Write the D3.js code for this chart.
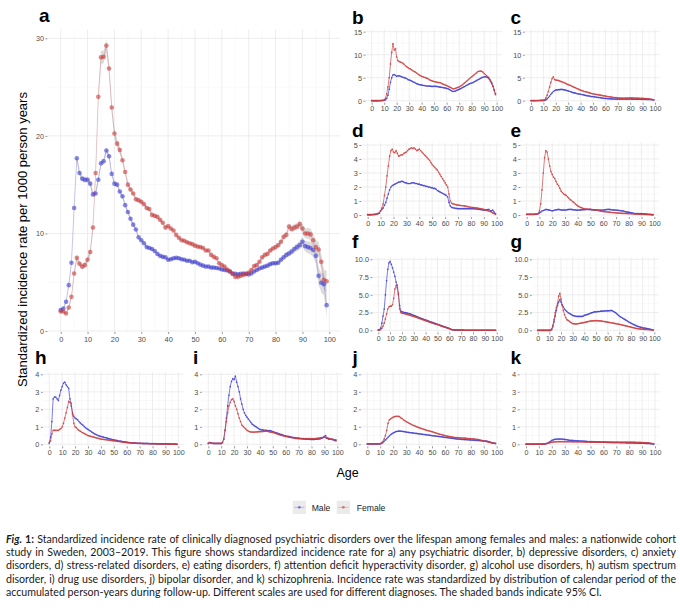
<!DOCTYPE html>
<html><head><meta charset="utf-8">
<script src="https://cdn.jsdelivr.net/npm/d3@7"></script>
<style>body{margin:0;background:#fff}svg{display:block}</style>
</head><body>
<svg id="c" width="680" height="608"></svg>
<script>
// ---------------- DATA (age 0..99) ----------------
const ages = d3.range(0, 100);
const sexes = ["Male", "Female"];
const panelIds = ["a","b","c","d","e","f","g","h","i","j","k"];

const maleA = [2.15,2.3,3.0,4.7,7.0,12.6,17.7,16.2,15.6,15.5,
15.5,15.1,14.0,14.1,15.5,17.2,17.4,18.5,17.9,16.1,
15.1,15.0,14.3,13.8,12.9,12.2,11.5,10.9,10.4,9.6,
9.3,9.0,8.6,8.5,8.4,8.2,7.9,7.7,7.6,7.55,
7.3,7.35,7.45,7.5,7.45,7.35,7.3,7.2,7.2,7.05,
7.1,6.95,6.8,6.7,6.6,6.6,6.5,6.5,6.45,6.4,
6.3,6.25,6.2,6.1,5.9,5.85,5.8,5.85,5.9,5.85,
5.8,5.9,6.1,6.25,6.4,6.5,6.6,6.7,6.85,6.95,
6.95,7.0,7.3,7.55,7.8,7.95,8.15,8.4,8.6,8.8,
9.15,8.7,8.6,8.5,8.3,7.7,5.65,4.95,4.8,2.65];
const femaleA = [2.0,2.0,1.8,2.4,3.5,5.9,7.5,6.9,6.6,6.75,
7.3,8.1,10.6,16.2,24.0,28.05,28.1,29.25,26.9,22.9,
20.25,19.2,18.55,17.5,16.3,15.0,14.5,14.1,13.5,13.4,
13.25,13.0,12.6,12.5,11.9,11.8,11.7,11.4,11.1,10.6,
10.75,10.5,10.3,9.85,9.55,9.3,9.25,9.1,9.0,8.9,
8.75,8.65,8.6,8.5,8.25,8.25,7.8,7.6,7.45,6.95,
6.75,6.6,6.3,6.1,5.85,5.55,5.55,5.65,5.75,5.85,
6.0,6.25,6.65,6.75,7.1,7.55,7.8,7.9,8.25,8.45,
8.6,8.8,9.15,9.65,9.85,10.7,10.45,10.6,10.7,10.95,
10.5,10.0,10.0,9.9,9.3,8.6,8.35,7.1,5.25,5.1];
// 95% CI half-widths, panel a
const ciMaleA = [0.15,0.15,0.15,0.2,0.25,0.3,0.35,0.3,0.3,0.3,
0.3,0.3,0.3,0.3,0.3,0.3,0.3,0.3,0.3,0.25,
0.25,0.2,0.2,0.2,0.2,0.2,0.2,0.2,0.2,0.2,
0.15,0.15,0.15,0.15,0.15,0.15,0.15,0.15,0.15,0.15,
0.12,0.12,0.12,0.12,0.12,0.12,0.12,0.12,0.12,0.12,
0.12,0.12,0.12,0.12,0.12,0.12,0.12,0.12,0.12,0.12,
0.12,0.12,0.12,0.12,0.12,0.12,0.12,0.12,0.12,0.12,
0.12,0.12,0.12,0.13,0.13,0.14,0.15,0.16,0.17,0.18,
0.2,0.22,0.24,0.26,0.28,0.3,0.33,0.36,0.4,0.44,
0.5,0.55,0.6,0.65,0.72,0.8,0.9,1.0,1.15,1.3];
const ciFemaleA = [0.15,0.15,0.15,0.2,0.2,0.3,0.35,0.3,0.3,0.3,
0.3,0.35,0.4,0.5,0.6,0.65,0.65,0.65,0.6,0.55,
0.5,0.45,0.4,0.35,0.3,0.3,0.25,0.25,0.25,0.25,
0.2,0.2,0.2,0.2,0.2,0.2,0.2,0.2,0.2,0.2,
0.15,0.15,0.15,0.15,0.15,0.15,0.15,0.15,0.15,0.15,
0.15,0.15,0.15,0.15,0.15,0.15,0.15,0.15,0.15,0.15,
0.15,0.15,0.15,0.15,0.15,0.15,0.15,0.15,0.15,0.15,
0.15,0.15,0.15,0.16,0.16,0.17,0.18,0.19,0.2,0.21,
0.22,0.24,0.26,0.28,0.3,0.32,0.34,0.36,0.38,0.4,
0.45,0.5,0.55,0.6,0.65,0.7,0.8,0.9,1.0,1.1];

const maleB = [0,0,0,0,0,0,0.02,0.02,0.03,0.05,
0.1,0.2,0.5,1.2,2.5,4.0,5.0,5.6,5.7,5.5,
5.3,5.4,5.4,5.3,5.2,5.1,5.0,4.9,4.8,4.6,
4.5,4.4,4.3,4.1,4.0,3.85,3.7,3.6,3.5,3.45,
3.4,3.35,3.3,3.25,3.2,3.2,3.15,3.15,3.1,3.1,
3.15,3.1,3.1,3.05,3.0,2.95,2.9,2.85,2.8,2.75,
2.7,2.6,2.45,2.3,2.15,2.0,2.05,2.1,2.25,2.35,
2.5,2.6,2.75,2.9,3.05,3.2,3.35,3.5,3.65,3.75,
3.85,3.95,4.1,4.25,4.4,4.55,4.7,4.85,5.0,5.1,
5.2,5.2,5.15,5.0,4.7,4.2,3.7,3.2,2.4,1.5];
const femaleB = [0,0,0,0,0,0,0.02,0.03,0.05,0.08,
0.15,0.5,1.5,3.0,5.0,8.0,10.5,12.4,11.0,11.3,
9.5,8.7,8.5,8.4,8.3,8.1,7.9,7.6,7.4,7.2,
7.0,6.9,6.7,6.5,6.35,6.2,6.0,5.8,5.6,5.45,
5.3,5.2,5.1,5.0,4.9,4.8,4.6,4.45,4.35,4.25,
4.15,4.1,4.05,4.0,3.95,3.9,3.75,3.6,3.5,3.4,
3.3,3.15,3.0,2.9,2.75,2.6,2.6,2.7,2.8,2.9,
3.0,3.15,3.35,3.55,3.8,4.0,4.25,4.5,4.75,5.0,
5.2,5.4,5.65,5.9,6.1,6.35,6.4,6.45,6.4,6.2,
5.9,5.7,5.4,5.2,4.9,4.5,4.0,3.1,2.2,1.3];

const maleC = [0.02,0.02,0.02,0.03,0.03,0.03,0.04,0.04,0.05,0.05,
0.06,0.08,0.2,0.4,0.7,1.0,1.4,1.7,2.0,2.2,
2.3,2.35,2.4,2.4,2.45,2.45,2.4,2.35,2.3,2.2,
2.1,2.05,1.95,1.85,1.75,1.7,1.65,1.55,1.5,1.45,
1.4,1.35,1.3,1.2,1.15,1.1,1.05,1.0,0.95,0.9,
0.9,0.85,0.8,0.75,0.72,0.7,0.65,0.6,0.55,0.52,
0.5,0.48,0.45,0.42,0.4,0.4,0.38,0.37,0.36,0.35,
0.35,0.35,0.35,0.35,0.35,0.35,0.35,0.35,0.35,0.35,
0.35,0.35,0.34,0.33,0.33,0.32,0.32,0.31,0.31,0.3,
0.3,0.3,0.3,0.28,0.28,0.27,0.26,0.25,0.22,0.2];
const femaleC = [0.02,0.02,0.02,0.03,0.03,0.04,0.04,0.05,0.05,0.06,
0.08,0.2,0.6,1.2,2.0,3.0,4.0,4.8,5.2,4.6,
4.5,4.45,4.4,4.3,4.2,4.1,4.0,3.9,3.75,3.6,
3.5,3.4,3.3,3.15,3.0,2.9,2.8,2.65,2.55,2.4,
2.3,2.2,2.1,2.0,1.95,1.9,1.8,1.7,1.65,1.55,
1.5,1.45,1.4,1.35,1.3,1.25,1.2,1.15,1.1,1.05,
1.0,0.95,0.9,0.85,0.82,0.8,0.75,0.7,0.68,0.65,
0.6,0.6,0.58,0.57,0.55,0.55,0.56,0.57,0.58,0.6,
0.6,0.6,0.6,0.58,0.57,0.55,0.55,0.54,0.52,0.52,
0.5,0.5,0.48,0.45,0.42,0.4,0.35,0.3,0.25,0.2];

const maleD = [0.02,0.02,0.02,0.03,0.03,0.04,0.05,0.07,0.1,0.15,
0.3,0.4,0.5,0.7,0.9,1.2,1.5,1.8,2.0,2.1,
2.15,2.2,2.25,2.3,2.35,2.35,2.4,2.4,2.35,2.3,
2.3,2.25,2.25,2.25,2.3,2.3,2.3,2.25,2.25,2.2,
2.2,2.15,2.15,2.1,2.1,2.05,2.05,2.0,2.0,1.95,
1.95,1.9,1.9,1.85,1.75,1.7,1.65,1.6,1.55,1.5,
1.45,1.4,1.3,0.9,0.65,0.55,0.52,0.5,0.48,0.47,
0.45,0.45,0.45,0.45,0.45,0.45,0.45,0.45,0.45,0.45,
0.45,0.45,0.45,0.44,0.43,0.42,0.41,0.4,0.38,0.37,
0.35,0.35,0.36,0.38,0.4,0.3,0.3,0.35,0.2,0.1];
const femaleD = [0.02,0.02,0.02,0.03,0.03,0.04,0.05,0.07,0.1,0.15,
0.3,0.5,0.8,1.4,2.0,2.8,3.5,4.2,4.6,4.7,
4.5,4.45,4.6,4.4,4.2,4.25,4.3,4.3,4.4,4.45,
4.5,4.6,4.7,4.75,4.8,4.75,4.8,4.7,4.6,4.65,
4.7,4.6,4.5,4.4,4.3,4.2,4.1,4.0,3.9,3.75,
3.6,3.5,3.4,3.3,3.2,3.05,2.9,2.75,2.6,2.45,
2.3,2.15,2.0,1.5,1.0,0.85,0.8,0.78,0.75,0.72,
0.7,0.7,0.68,0.67,0.66,0.65,0.63,0.61,0.59,0.57,
0.55,0.54,0.53,0.52,0.51,0.5,0.48,0.46,0.44,0.42,
0.4,0.37,0.34,0.31,0.28,0.25,0.2,0.15,0.1,0.05];

const maleE = [0.05,0.05,0.05,0.05,0.05,0.05,0.05,0.06,0.07,0.1,
0.15,0.2,0.3,0.32,0.35,0.4,0.38,0.36,0.35,0.32,
0.3,0.32,0.35,0.37,0.38,0.4,0.38,0.36,0.35,0.36,
0.35,0.37,0.38,0.4,0.4,0.4,0.38,0.37,0.36,0.35,
0.35,0.35,0.36,0.37,0.38,0.38,0.39,0.4,0.4,0.4,
0.4,0.38,0.37,0.36,0.35,0.35,0.35,0.35,0.35,0.35,
0.35,0.36,0.38,0.4,0.4,0.4,0.38,0.37,0.36,0.35,
0.35,0.34,0.33,0.32,0.3,0.3,0.28,0.25,0.22,0.2,
0.2,0.18,0.16,0.14,0.12,0.1,0.1,0.1,0.1,0.1,
0.1,0.09,0.08,0.07,0.06,0.05,0.05,0.04,0.03,0.02];
const femaleE = [0.05,0.05,0.05,0.05,0.05,0.05,0.05,0.06,0.07,0.1,
0.3,0.8,1.8,3.0,4.1,4.6,4.5,4.0,3.5,3.1,
2.9,2.7,2.6,2.4,2.2,2.1,1.9,1.7,1.6,1.5,
1.45,1.4,1.3,1.2,1.1,1.05,0.95,0.9,0.8,0.72,
0.65,0.6,0.55,0.52,0.48,0.45,0.43,0.42,0.41,0.4,
0.4,0.39,0.38,0.37,0.36,0.35,0.33,0.3,0.28,0.26,
0.25,0.24,0.23,0.22,0.21,0.2,0.19,0.18,0.17,0.16,
0.15,0.15,0.14,0.13,0.13,0.12,0.12,0.11,0.11,0.1,
0.1,0.1,0.09,0.09,0.08,0.08,0.07,0.07,0.06,0.06,
0.05,0.05,0.05,0.04,0.04,0.04,0.03,0.03,0.02,0.02];

const maleF = [0.05,0.1,0.3,1.0,2.0,3.0,5.0,7.0,8.6,9.5,
9.7,9.3,8.8,8.2,7.6,6.8,6.0,5.0,3.5,2.7,
2.6,2.55,2.5,2.48,2.45,2.4,2.35,2.3,2.25,2.15,
2.1,2.05,1.98,1.9,1.82,1.75,1.7,1.63,1.56,1.5,
1.45,1.4,1.33,1.27,1.2,1.15,1.1,1.03,0.97,0.9,
0.85,0.8,0.73,0.67,0.6,0.55,0.5,0.43,0.37,0.3,
0.25,0.18,0.1,0.08,0.06,0.05,0.04,0.03,0.03,0.02,
0.02,0.02,0.02,0.01,0.01,0.01,0.01,0.01,0.01,0.01,
0.01,0.01,0.01,0.01,0.01,0.01,0.01,0.01,0.01,0.01,
0.01,0.01,0.01,0.01,0.01,0.01,0.01,0.01,0.01,0.01];
const femaleF = [0.02,0.05,0.1,0.3,0.6,1.0,1.6,2.3,3.0,3.3,
3.4,3.4,3.6,4.5,5.8,6.3,6.4,5.2,3.0,2.5,
2.4,2.38,2.35,2.3,2.25,2.2,2.15,2.1,2.05,2.0,
1.95,1.9,1.85,1.78,1.72,1.65,1.6,1.53,1.47,1.4,
1.35,1.3,1.23,1.17,1.1,1.05,1.0,0.95,0.9,0.85,
0.8,0.75,0.68,0.62,0.56,0.5,0.45,0.4,0.35,0.3,
0.25,0.18,0.1,0.08,0.06,0.05,0.04,0.03,0.03,0.02,
0.02,0.02,0.02,0.01,0.01,0.01,0.01,0.01,0.01,0.01,
0.01,0.01,0.01,0.01,0.01,0.01,0.01,0.01,0.01,0.01,
0.01,0.01,0.01,0.01,0.01,0.01,0.01,0.01,0.01,0.01];

const maleG = [0,0,0,0,0,0,0,0,0,0,
0,0,0.1,0.5,1.2,2.0,2.8,3.5,4.0,4.3,
4.0,3.6,3.3,3.0,2.8,2.65,2.5,2.4,2.3,2.2,
2.1,2.05,2.0,1.97,1.95,1.95,1.95,1.95,1.95,2.0,
2.1,2.15,2.2,2.25,2.3,2.4,2.45,2.5,2.55,2.6,
2.6,2.62,2.65,2.65,2.7,2.7,2.7,2.72,2.75,2.75,
2.75,2.75,2.78,2.8,2.75,2.65,2.55,2.45,2.3,2.15,
2.0,1.9,1.8,1.7,1.6,1.5,1.4,1.3,1.2,1.1,
1.0,0.92,0.84,0.76,0.68,0.6,0.55,0.5,0.45,0.4,
0.35,0.32,0.3,0.27,0.24,0.2,0.16,0.12,0.08,0.05];
const femaleG = [0,0,0,0,0,0,0,0,0,0,
0,0,0.2,0.7,1.5,2.5,3.2,3.8,4.8,5.2,
4.4,3.5,2.8,2.2,1.8,1.5,1.4,1.3,1.15,1.05,
0.95,0.93,0.9,0.9,0.92,0.95,0.98,1.0,1.05,1.08,
1.1,1.14,1.18,1.22,1.26,1.3,1.32,1.33,1.34,1.35,
1.35,1.35,1.34,1.33,1.32,1.3,1.27,1.24,1.21,1.18,
1.15,1.12,1.09,1.06,1.03,1.0,0.97,0.94,0.91,0.88,
0.85,0.81,0.77,0.73,0.69,0.65,0.61,0.57,0.53,0.49,
0.45,0.41,0.37,0.33,0.29,0.25,0.23,0.21,0.19,0.17,
0.15,0.14,0.13,0.12,0.11,0.1,0.09,0.08,0.06,0.05];

const maleH = [0.1,0.4,1.3,2.6,2.7,2.7,2.6,2.5,2.8,3.1,
3.3,3.5,3.55,3.4,3.3,3.2,2.6,2.2,1.8,1.6,
1.5,1.45,1.4,1.3,1.22,1.15,1.1,1.02,0.95,0.9,
0.85,0.8,0.75,0.7,0.65,0.6,0.57,0.53,0.5,0.47,
0.45,0.43,0.41,0.39,0.37,0.35,0.33,0.31,0.29,0.27,
0.25,0.24,0.22,0.21,0.19,0.18,0.17,0.15,0.14,0.13,
0.12,0.11,0.1,0.09,0.09,0.08,0.08,0.07,0.07,0.06,
0.06,0.06,0.05,0.05,0.05,0.05,0.05,0.04,0.04,0.04,
0.04,0.04,0.04,0.03,0.03,0.03,0.03,0.03,0.02,0.02,
0.02,0.02,0.02,0.02,0.01,0.01,0.01,0.01,0.01,0.0];
const femaleH = [0.05,0.2,0.6,0.8,0.8,0.8,0.8,0.8,0.85,0.9,
1.0,1.2,1.5,1.8,2.1,2.45,2.4,2.35,1.7,1.2,
1.0,0.95,0.85,0.8,0.75,0.7,0.66,0.62,0.58,0.54,
0.5,0.48,0.46,0.44,0.42,0.4,0.38,0.36,0.34,0.32,
0.3,0.29,0.28,0.27,0.26,0.25,0.24,0.23,0.22,0.21,
0.2,0.19,0.18,0.17,0.16,0.15,0.14,0.13,0.12,0.11,
0.1,0.09,0.09,0.08,0.08,0.07,0.07,0.06,0.06,0.05,
0.05,0.05,0.05,0.04,0.04,0.04,0.04,0.04,0.03,0.03,
0.03,0.03,0.03,0.03,0.02,0.02,0.02,0.02,0.02,0.02,
0.02,0.02,0.01,0.01,0.01,0.01,0.01,0.01,0.01,0.01];

const maleI = [0.05,0.1,0.08,0.06,0.05,0.05,0.05,0.05,0.05,0.05,
0.05,0.1,0.3,0.8,1.5,2.2,2.8,3.3,3.6,3.75,
3.7,3.9,3.55,3.3,3.0,2.6,2.3,2.0,1.8,1.65,
1.55,1.45,1.35,1.25,1.15,1.1,1.05,1.0,0.95,0.9,
0.85,0.83,0.82,0.81,0.8,0.8,0.79,0.78,0.78,0.75,
0.72,0.7,0.67,0.65,0.62,0.6,0.57,0.55,0.52,0.5,
0.48,0.46,0.45,0.43,0.42,0.4,0.39,0.38,0.37,0.36,
0.35,0.34,0.33,0.32,0.31,0.3,0.3,0.29,0.29,0.28,
0.28,0.28,0.28,0.29,0.29,0.3,0.31,0.32,0.35,0.4,
0.45,0.5,0.35,0.3,0.3,0.3,0.28,0.25,0.22,0.2];
const femaleI = [0.05,0.1,0.08,0.06,0.05,0.05,0.05,0.05,0.05,0.05,
0.05,0.1,0.3,0.8,1.3,1.8,2.2,2.4,2.55,2.6,
2.45,2.2,2.0,1.75,1.5,1.3,1.1,1.02,0.95,0.88,
0.8,0.76,0.72,0.71,0.7,0.7,0.7,0.71,0.71,0.72,
0.72,0.73,0.73,0.74,0.75,0.75,0.74,0.72,0.7,0.69,
0.68,0.66,0.63,0.61,0.58,0.55,0.53,0.51,0.49,0.47,
0.45,0.44,0.42,0.41,0.39,0.38,0.37,0.35,0.34,0.33,
0.32,0.32,0.32,0.32,0.32,0.32,0.32,0.32,0.32,0.32,
0.32,0.32,0.33,0.33,0.34,0.35,0.36,0.37,0.38,0.39,
0.4,0.38,0.37,0.35,0.33,0.3,0.29,0.28,0.26,0.25];

const maleJ = [0.02,0.02,0.02,0.02,0.02,0.02,0.02,0.02,0.02,0.02,
0.03,0.05,0.1,0.17,0.25,0.32,0.4,0.48,0.55,0.6,
0.65,0.68,0.72,0.74,0.75,0.75,0.75,0.74,0.73,0.72,
0.7,0.69,0.68,0.67,0.66,0.65,0.64,0.63,0.62,0.61,
0.6,0.59,0.58,0.57,0.56,0.55,0.54,0.53,0.52,0.51,
0.5,0.49,0.48,0.47,0.46,0.45,0.44,0.43,0.42,0.41,
0.4,0.39,0.38,0.37,0.36,0.35,0.34,0.33,0.32,0.31,
0.3,0.3,0.29,0.28,0.28,0.27,0.27,0.26,0.26,0.25,
0.25,0.24,0.24,0.23,0.23,0.22,0.22,0.21,0.21,0.2,
0.2,0.19,0.18,0.17,0.15,0.12,0.1,0.08,0.06,0.05];
const femaleJ = [0.03,0.03,0.03,0.03,0.03,0.03,0.03,0.03,0.03,0.03,
0.04,0.08,0.15,0.3,0.5,0.8,1.2,1.4,1.45,1.5,
1.55,1.58,1.6,1.6,1.6,1.58,1.5,1.47,1.4,1.35,
1.3,1.26,1.22,1.18,1.14,1.1,1.07,1.04,1.01,0.98,
0.95,0.92,0.9,0.87,0.85,0.82,0.8,0.78,0.76,0.74,
0.72,0.7,0.67,0.65,0.62,0.6,0.58,0.56,0.54,0.52,
0.5,0.48,0.47,0.45,0.44,0.42,0.41,0.4,0.39,0.38,
0.38,0.37,0.37,0.36,0.36,0.35,0.35,0.34,0.33,0.33,
0.32,0.31,0.31,0.3,0.29,0.28,0.27,0.25,0.23,0.21,
0.2,0.18,0.16,0.14,0.12,0.1,0.09,0.07,0.06,0.05];

const maleK = [0.01,0.01,0.01,0.01,0.01,0.01,0.01,0.01,0.01,0.01,
0.01,0.01,0.01,0.02,0.02,0.03,0.05,0.07,0.12,0.17,
0.22,0.25,0.28,0.29,0.3,0.3,0.3,0.3,0.3,0.29,
0.28,0.27,0.26,0.24,0.23,0.22,0.22,0.21,0.21,0.2,
0.2,0.2,0.19,0.19,0.18,0.18,0.17,0.17,0.16,0.16,
0.15,0.15,0.15,0.14,0.14,0.14,0.13,0.13,0.13,0.12,
0.12,0.12,0.12,0.11,0.11,0.11,0.11,0.1,0.1,0.1,
0.1,0.1,0.1,0.09,0.09,0.09,0.09,0.09,0.08,0.08,
0.08,0.08,0.08,0.08,0.07,0.07,0.07,0.07,0.06,0.06,
0.06,0.06,0.06,0.05,0.05,0.05,0.04,0.03,0.03,0.02];
const femaleK = [0.01,0.01,0.01,0.01,0.01,0.01,0.01,0.01,0.01,0.01,
0.01,0.01,0.01,0.01,0.02,0.03,0.04,0.06,0.08,0.1,
0.12,0.13,0.14,0.14,0.15,0.15,0.15,0.15,0.15,0.15,
0.15,0.15,0.15,0.15,0.15,0.15,0.14,0.14,0.14,0.14,
0.14,0.14,0.14,0.14,0.14,0.13,0.13,0.13,0.13,0.13,
0.13,0.13,0.13,0.13,0.13,0.12,0.12,0.12,0.12,0.12,
0.12,0.12,0.12,0.12,0.12,0.12,0.12,0.12,0.12,0.12,
0.12,0.12,0.12,0.12,0.12,0.12,0.12,0.12,0.12,0.12,
0.12,0.12,0.12,0.12,0.12,0.11,0.11,0.11,0.11,0.11,
0.1,0.1,0.1,0.09,0.09,0.08,0.07,0.06,0.04,0.03];

const xTicks = [0,10,20,30,40,50,60,70,80,90,100];
const yTicksA = [0,10,20,30];
const yTicksBC = [0,5,10,15];
const yTicksDE = [0,1,2,3,4,5];
const yTicksFG = [0,2.5,5,7.5,10];
const yTicksHK = [0,1,2,3,4];

const captionLines = [
 "Standardized incidence rate of clinically diagnosed psychiatric disorders over the lifespan among females and males: a nationwide cohort",
 "study in Sweden, 2003–2019. This figure shows standardized incidence rate for a) any psychiatric disorder, b) depressive disorders, c) anxiety",
 "disorders, d) stress-related disorders, e) eating disorders, f) attention deficit hyperactivity disorder, g) alcohol use disorders, h) autism spectrum",
 "disorder, i) drug use disorders, j) bipolar disorder, and k) schizophrenia. Incidence rate was standardized by distribution of calendar period of the",
 "accumulated person-years during follow-up. Different scales are used for different diagnoses. The shaded bands indicate 95% CI."
];

// ---------------- LAYOUT ----------------
const colors = {Male: "#3c3cd2", Female: "#cc3b3b"};
const series = {
 a:[maleA,femaleA], b:[maleB,femaleB], c:[maleC,femaleC], d:[maleD,femaleD],
 e:[maleE,femaleE], f:[maleF,femaleF], g:[maleG,femaleG], h:[maleH,femaleH],
 i:[maleI,femaleI], j:[maleJ,femaleJ], k:[maleK,femaleK]
};
const layout = {
 a:{x0:60.7,x100:329.3,y0:331,yT:38.3,T:30,bot:-0.1,ticks:yTicksA,fmt:d3.format("d"),lab:[39,22.3],big:true},
 b:{x0:371.7,x100:496.7,y0:100.7,yT:31.7,T:15,ticks:yTicksBC,fmt:d3.format("d"),lab:[352,24]},
 c:{x0:531,x100:655,y0:100.7,yT:31.7,T:15,ticks:yTicksBC,fmt:d3.format("d"),lab:[510.5,24]},
 d:{x0:367.7,x100:496.7,y0:215,yT:145,T:5,ticks:yTicksDE,fmt:d3.format("d"),lab:[352,136.7]},
 e:{x0:526.7,x100:654.3,y0:215,yT:145,T:5,ticks:yTicksDE,fmt:d3.format("d"),lab:[510.5,136.7]},
 f:{x0:378.3,x100:496.7,y0:330.3,yT:259.3,T:10,ticks:yTicksFG,fmt:d3.format(".1f"),lab:[352,248.3]},
 g:{x0:537.7,x100:654.3,y0:330.3,yT:259.3,T:10,ticks:yTicksFG,fmt:d3.format(".1f"),lab:[510.5,248.3]},
 h:{x0:49.3,x100:178.3,y0:444.3,yT:374.3,T:4,ticks:yTicksHK,fmt:d3.format("d"),lab:[35,364]},
 i:{x0:208.3,x100:337.3,y0:444.3,yT:374.3,T:4,ticks:yTicksHK,fmt:d3.format("d"),lab:[193,364]},
 j:{x0:367.3,x100:496.7,y0:444.3,yT:374.3,T:4,ticks:yTicksHK,fmt:d3.format("d"),lab:[352.5,364]},
 k:{x0:526,x100:655,y0:444.3,yT:374.3,T:4,ticks:yTicksHK,fmt:d3.format("d"),lab:[510.5,364]}
};

const svg = d3.select("#c");
svg.append("rect").attr("width",680).attr("height",608).attr("fill","#fff");

panelIds.forEach(id => {
  const L = layout[id];
  const [m, f] = series[id];
  const x = d3.scaleLinear().domain([0,100]).range([L.x0, L.x100]);
  const y = d3.scaleLinear().domain([0,L.T]).range([L.y0, L.yT]);
  const xl = x(-4.95), xr = x(103.95);
  const yb = y(L.bot !== undefined ? L.bot : -0.03*L.T), yt = y(1.03*L.T);
  const g = svg.append("g");
  // grid
  const minorX = d3.range(5,100,10);
  const minorY = L.ticks.slice(0,-1).map((t,i)=> (t+L.ticks[i+1])/2);
  g.selectAll(null).data(minorX).join("line")
    .attr("x1",d=>x(d)).attr("x2",d=>x(d)).attr("y1",yb).attr("y2",yt)
    .attr("stroke","#f2f2f2").attr("stroke-width",0.5);
  g.selectAll(null).data(minorY).join("line")
    .attr("x1",xl).attr("x2",xr).attr("y1",d=>y(d)).attr("y2",d=>y(d))
    .attr("stroke","#f2f2f2").attr("stroke-width",0.5);
  g.selectAll(null).data(xTicks).join("line")
    .attr("x1",d=>x(d)).attr("x2",d=>x(d)).attr("y1",yb).attr("y2",yt)
    .attr("stroke","#e9e9e9").attr("stroke-width",0.8);
  g.selectAll(null).data(L.ticks).join("line")
    .attr("x1",xl).attr("x2",xr).attr("y1",d=>y(d)).attr("y2",d=>y(d))
    .attr("stroke","#e9e9e9").attr("stroke-width",0.8);
  // axes
  const xAxis = d3.axisBottom(x).tickValues(xTicks).tickSize(2).tickPadding(L.big ? 2.5 : 1.5).tickFormat(d3.format("d"));
  const ax = g.append("g").attr("transform",`translate(0,${yb})`).call(xAxis);
  ax.select(".domain").remove();
  ax.selectAll(".tick line").attr("stroke","#333").attr("stroke-width",0.5);
  ax.selectAll("text").attr("fill","#4d4d4d")
    .attr("font-family", L.big ? "Liberation Sans, Arial, sans-serif" : "Liberation Sans Narrow, Arial Narrow, sans-serif")
    .attr("font-size", L.big ? 7.4 : 7.1);
  const yAxis = d3.axisLeft(y).tickValues(L.ticks).tickSize(2).tickPadding(1.5).tickFormat(L.fmt);
  const ay = g.append("g").attr("transform",`translate(${xl},0)`).call(yAxis);
  ay.select(".domain").remove();
  ay.selectAll(".tick line").attr("stroke","#333").attr("stroke-width",0.5);
  ay.selectAll("text").attr("fill","#4d4d4d").attr("font-family","Liberation Sans, Arial, sans-serif")
    .attr("font-size", L.big ? 7.2 : 7.3);
  // CI ribbons (panel a)
  if (id === "a") {
    [[maleA,ciMaleA],[femaleA,ciFemaleA]].forEach(([v,ci]) => {
      const area = d3.area().x(d=>x(d)).y0(d=>y(v[d]-ci[d])).y1(d=>y(v[d]+ci[d]));
      g.append("path").attr("d",area(ages)).attr("fill","#9a9a9a").attr("opacity",0.35);
    });
  }
  // series
  [[m,"Male"],[f,"Female"]].forEach(([v,s]) => {
    const line = d3.line().x(d=>x(d)).y(d=>y(v[d]));
    g.append("path").attr("d",line(ages)).attr("fill","none")
      .attr("stroke",colors[s]).attr("stroke-width", L.big ? 0.7 : 0.9)
      .attr("stroke-opacity", L.big ? 0.35 : 0.75);
    g.selectAll(null).data(ages).join("circle")
      .attr("cx",d=>x(d)).attr("cy",d=>y(v[d]))
      .attr("r", L.big ? 2.3 : 0.85)
      .attr("fill",colors[s]).attr("fill-opacity", L.big ? 0.6 : 0.8);
  });
  // panel label
  svg.append("text").attr("x",L.lab[0]).attr("y",L.lab[1]).text(id)
    .attr("font-family","Liberation Sans, Arial, sans-serif").attr("font-weight","bold")
    .attr("font-size",19).attr("fill","#000");
});

// axis titles
svg.append("text").attr("transform","translate(26.5,239.5) rotate(-90)")
  .attr("text-anchor","middle").attr("font-family","Liberation Sans, Arial, sans-serif")
  .attr("font-size",13).attr("fill","#000").text("Standardized incidence rate per 1000 person years");
svg.append("text").attr("x",347.5).attr("y",477).attr("text-anchor","middle")
  .attr("font-family","Liberation Sans, Arial, sans-serif").attr("font-size",12.5).attr("fill","#000").text("Age");

// legend
const legendPos = {Male:[292.7,311.7], Female:[336.7,356.7]};
sexes.forEach(s => {
  const [kx, tx] = legendPos[s];
  const lg = svg.append("g");
  lg.append("rect").attr("x",kx).attr("y",500.7).attr("width",13.3).attr("height",13.3).attr("fill","#ebebeb");
  lg.append("line").attr("x1",kx+1.5).attr("x2",kx+11.8).attr("y1",507.35).attr("y2",507.35)
    .attr("stroke",colors[s]).attr("stroke-opacity",0.35).attr("stroke-width",0.8);
  lg.append("circle").attr("cx",kx+6.65).attr("cy",507.35).attr("r",1.4).attr("fill",colors[s]).attr("fill-opacity",0.6);
  lg.append("text").attr("x",tx).attr("y",510.5).text(s)
    .attr("font-family","Liberation Sans, Arial, sans-serif").attr("font-size",8.6).attr("fill","#1a1a1a");
});

// caption
const cap = svg.append("g").attr("font-family","Lato, 'Open Sans', sans-serif").attr("fill","#1a1a1a");
const capTexts = captionLines.map((t,i) => {
  const el = cap.append("text").attr("x",6).attr("y",542.5 + 13.35*i).attr("font-size",10);
  if (i === 0) {
    el.append("tspan").attr("font-weight","bold").attr("font-style","italic").text("Fig.");
    el.append("tspan").attr("font-weight","bold").text(" 1:");
    el.append("tspan").text(" " + t);
  } else el.text(t);
  return el;
});
const widths = capTexts.slice(0,4).map(e=>e.node().getComputedTextLength());
const fs = 10 * 662 / d3.max(widths);
capTexts.forEach(e=>e.attr("font-size",fs));
capTexts.slice(0,4).forEach((e,i)=>{
  const w = e.node().getComputedTextLength();
  const n = (e.text().match(/ /g)||[]).length;
  e.attr("word-spacing", ((670 - w)/n).toFixed(3));
});
</script>
</body></html>
